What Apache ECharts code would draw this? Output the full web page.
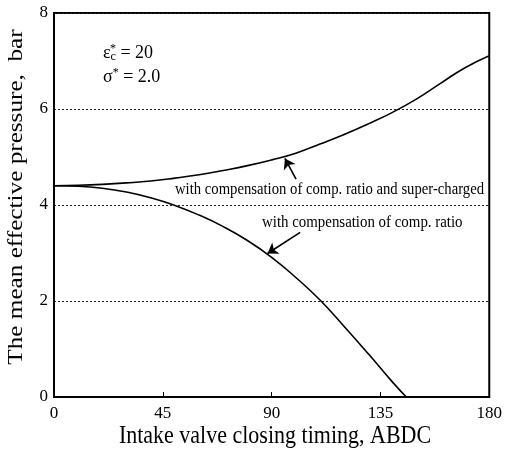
<!DOCTYPE html>
<html>
<head>
<meta charset="utf-8">
<script src="https://cdn.jsdelivr.net/npm/echarts@6/dist/echarts.min.js"></script>
<style>
  html, body { margin: 0; padding: 0; background: #fff; }
  #chart { width: 505px; height: 449px; }
</style>
</head>
<body>
<div id="chart"></div>
<script>
// Intake valve closing timing (deg ABDC)
const timing = [0, 10, 20, 30, 40, 50, 60, 70, 80, 90, 100, 110, 120, 130, 140, 150, 160, 170, 180];
// Mean effective pressure, compensated compression ratio + super-charged (bar)
const superCharged = [4.40, 4.41, 4.43, 4.46, 4.50, 4.56, 4.63, 4.72, 4.82, 4.94, 5.08, 5.27, 5.47, 5.69, 5.93, 6.21, 6.54, 6.86, 7.11];
// Mean effective pressure, compensated compression ratio only (bar)
const compTiming = [0, 10, 20, 30, 40, 50, 60, 70, 80, 90, 100, 110, 120, 130, 140, 145.7];
const compOnly = [4.40, 4.39, 4.35, 4.27, 4.15, 3.99, 3.79, 3.55, 3.26, 2.91, 2.49, 2.02, 1.47, 0.90, 0.31, 0.0];

const xTicks = [0, 45, 90, 135, 180];
const yTicks = [0, 2, 4, 6, 8];

const serif = '"Liberation Serif", "DejaVu Serif", serif';

const chart = echarts.init(document.getElementById('chart'));

const pairs = (xs, ys) => xs.map((x, i) => [x, ys[i]]);

const arrowLine = (from, to) => ({
  silent: true, symbol: ['none', 'arrow'], symbolSize: 10,
  label: { show: false },
  lineStyle: { color: '#000', width: 1.6, type: 'solid' },
  data: [[{ coord: from }, { coord: to }]]
});

chart.setOption({
  animation: false,
  grid: {
    left: 54, right: 12, top: 13, bottom: 52,
    show: true, borderColor: '#000', borderWidth: 2, backgroundColor: 'transparent'
  },
  xAxis: {
    type: 'value', min: 0, max: 180, interval: 45,
    axisLine: { show: true, lineStyle: { color: '#000', width: 2 } },
    axisTick: { show: true, inside: true, length: 5, lineStyle: { color: '#000', width: 1 } },
    axisLabel: {
      fontFamily: serif, fontSize: 17, color: '#000', margin: 8,
      formatter: v => xTicks.includes(v) ? String(v) : ''
    },
    splitLine: { show: false }
  },
  yAxis: {
    type: 'value', min: 0, max: 8, interval: 2,
    axisLine: { show: true, lineStyle: { color: '#000', width: 2 } },
    axisTick: { show: false },
    axisLabel: {
      fontFamily: serif, fontSize: 17, color: '#000', margin: 6,
      formatter: v => yTicks.includes(v) ? String(v) : ''
    },
    splitLine: { show: true, lineStyle: { color: '#222', width: 1, type: [2, 2] } }
  },
  series: [
    {
      type: 'line', data: pairs(timing, superCharged), smooth: 0.5,
      symbol: 'none', lineStyle: { color: '#000', width: 1.6 },
      markLine: arrowLine([100.1, 4.54], [95.5, 4.97])
    },
    {
      type: 'line', data: pairs(compTiming, compOnly), smooth: 0.5,
      symbol: 'none', lineStyle: { color: '#000', width: 1.6 },
      markLine: arrowLine([101.8, 3.43], [88.3, 2.99])
    }
  ],
  graphic: [
    // axis titles (tall, narrow serif lettering)
    {
      type: 'text', x: 275, y: 436, scaleY: 1.15,
      style: {
        text: 'Intake valve closing timing, ABDC', font: '22px ' + serif, fill: '#000',
        align: 'center', verticalAlign: 'middle'
      }
    },
    {
      type: 'text', x: 16, y: 197, rotation: Math.PI / 2, scaleX: 1.2,
      style: {
        text: 'The mean effective pressure,  bar', font: '21px ' + serif, fill: '#000',
        align: 'center', verticalAlign: 'middle'
      }
    },
    // parameter note
    {
      type: 'text', left: 103, top: 43,
      style: {
        text: '{e|ε}{c|c}{s|*}{e| = 20}',
        rich: {
          e: { fontFamily: serif, fontSize: 18, fill: '#000' },
          c: { fontFamily: serif, fontSize: 12, fill: '#000', verticalAlign: 'bottom', padding: [6, 0, 0, 0] },
          s: { fontFamily: serif, fontSize: 12, fill: '#000', padding: [0, 0, 8, -6] }
        }
      }
    },
    {
      type: 'text', left: 103, top: 67,
      style: {
        text: '{e|σ}{s|*}{e| = 2.0}',
        rich: {
          e: { fontFamily: serif, fontSize: 18, fill: '#000' },
          s: { fontFamily: serif, fontSize: 12, fill: '#000', padding: [0, 0, 8, 0] }
        }
      }
    },
    // curve captions
    {
      type: 'text', x: 175, y: 189, scaleY: 1.17,
      style: {
        text: 'with compensation of comp. ratio and super-charged', font: '14.7px ' + serif, fill: '#000',
        align: 'left', verticalAlign: 'middle'
      }
    },
    {
      type: 'text', x: 262, y: 222, scaleY: 1.17,
      style: {
        text: 'with compensation of comp. ratio', font: '14.9px ' + serif, fill: '#000',
        align: 'left', verticalAlign: 'middle'
      }
    }
  ]
});
</script>
</body>
</html>
